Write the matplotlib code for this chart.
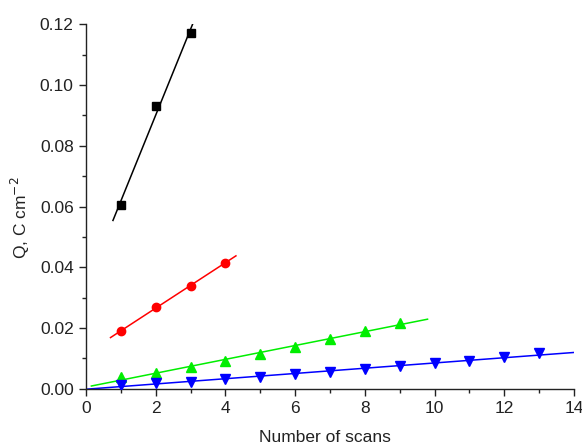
import numpy as np
import matplotlib
matplotlib.use("Agg")
import matplotlib.pyplot as plt
from matplotlib.ticker import MultipleLocator

plt.rcParams['font.family'] = ['Liberation Sans', 'DejaVu Sans']

# Data
x_black = [1, 2, 3]
y_black = [0.0605, 0.093, 0.117]
x_red = [1, 2, 3, 4]
y_red = [0.019, 0.0268, 0.034, 0.0415]
x_green = [1, 2, 3, 4, 5, 6, 7, 8, 9]
y_green = [0.0038, 0.0051, 0.0073, 0.0091, 0.0115, 0.0139, 0.0164, 0.0190, 0.0218]
x_blue = [1, 2, 3, 4, 5, 6, 7, 8, 9, 10, 11, 12, 13]
y_blue = [0.0014, 0.0018, 0.0024, 0.0032, 0.0040, 0.0048, 0.0056, 0.0065, 0.0076,
          0.0084, 0.0091, 0.0106, 0.0117]

# fit line extents (x range)
fit_black = (0.77, 3.07)
fit_red = (0.7, 4.3)
fit_green = (0.15, 9.8)
fit_blue = (0.0, 14.0)

fig = plt.figure(figsize=(5.82, 4.48), dpi=100)
ax = fig.add_axes([0.148, 0.132, 0.838, 0.814])

series = [
    (x_black, y_black, fit_black, 'black', 's', 5.2),
    (x_red, y_red, fit_red, '#ff0000', 'o', 6),
    (x_green, y_green, fit_green, '#00ee00', '^', 6.5),
    (x_blue, y_blue, fit_blue, '#0000ff', 'v', 6.5),
]
for xs, ys, rng, c, m, ms in series:
    p = np.polyfit(xs, ys, 1)
    xf = np.linspace(rng[0], rng[1], 50)
    ax.plot(xf, np.polyval(p, xf), color=c, lw=1.1, zorder=2)
    ax.plot(xs, ys, linestyle='none', marker=m, color=c, ms=ms, zorder=3)

ax.set_xlim(0, 14)
ax.set_ylim(0, 0.12)
ax.xaxis.set_major_locator(MultipleLocator(2))
ax.xaxis.set_minor_locator(MultipleLocator(1))
ax.yaxis.set_major_locator(MultipleLocator(0.02))
ax.yaxis.set_minor_locator(MultipleLocator(0.01))
ax.yaxis.set_major_formatter(plt.FuncFormatter(lambda v, _: f"{v:.2f}"))
for s in ['top', 'right']:
    ax.spines[s].set_visible(False)
for s in ['left', 'bottom']:
    ax.spines[s].set_linewidth(1.0)
    ax.spines[s].set_color('#222222')
ax.tick_params(which='major', direction='out', length=5, width=1.0, labelsize=12.5, colors='#222222', pad=4)
ax.tick_params(which='minor', direction='out', length=3, width=1.0, colors='#222222')
ax.set_xlabel('Number of scans', fontsize=12.5, color='#222222', va='center')
ax.xaxis.set_label_coords(0.49, (389 - 438) / 365)
ax.set_ylabel('Q, C cm$^{-2}$', fontsize=12.5, color='#222222', va='center')
ax.yaxis.set_label_coords((20 - 86) / 488, (389 - 218) / 365)

fig.savefig('out.png', dpi=100)
